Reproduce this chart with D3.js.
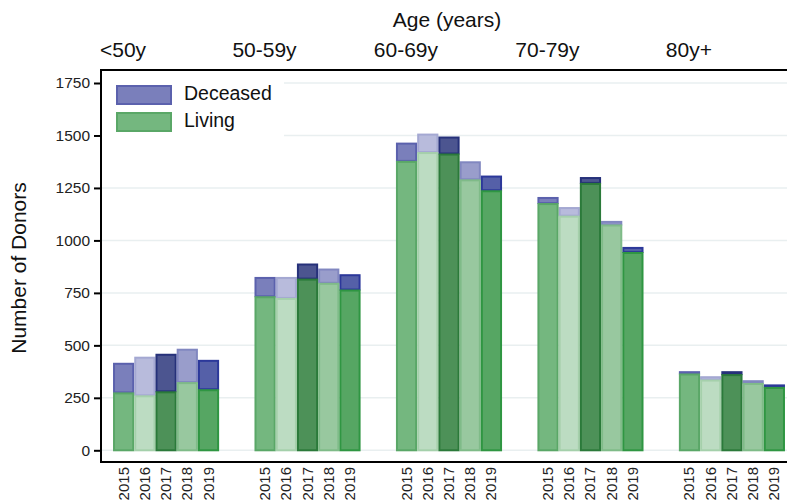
<!DOCTYPE html>
<html>
<head>
<meta charset="utf-8">
<script src="https://cdn.jsdelivr.net/npm/d3@7"></script>
<style>
  body { margin: 0; background: #fff; }
  svg text { font-family: "Liberation Sans", Arial, sans-serif; fill: #111; }
</style>
</head>
<body>
<svg id="chart" width="787" height="504"></svg>
<script>
// age groups along the top, years within each group
var groups = ["<50y", "50-59y", "60-69y", "70-79y", "80y+"];
var years = ["2015", "2016", "2017", "2018", "2019"];
var yTicks = [0, 250, 500, 750, 1000, 1250, 1500, 1750];

// living donors per group, one value per year
var living = [
  [276, 262, 281, 325, 291],
  [734, 726, 818, 798, 766],
  [1379, 1421, 1414, 1291, 1239],
  [1178, 1118, 1274, 1076, 945],
  [366, 337, 363, 321, 302]
];
// deceased donors per group, stacked on top of living
var deceased = [
  [141, 184, 179, 159, 140],
  [92, 100, 72, 68, 73],
  [87, 88, 81, 86, 70],
  [29, 41, 28, 17, 24],
  [11, 16, 14, 13, 12]
];

var livingFill = ["#74b77f", "#bcdcc2", "#4d9158", "#98c89f", "#56a663"];
var livingStroke = ["#5aa767", "#a5d0ab", "#2b7a3a", "#7fbb88", "#2f9642"];
var deadFill = ["#7a7fbb", "#b8bbdc", "#4c5590", "#999dcb", "#5560a8"];
var deadStroke = ["#5b61ad", "#a4a8d2", "#26317a", "#8187c0", "#2c389a"];

var svg = d3.select("#chart");
var W = 787, left = 101, plotTop = 70, plotBottom = 462;

var x0 = d3.scaleBand().domain(groups).range([left, 797])
  .paddingInner(0.25).paddingOuter(0.085);
var x1 = d3.scaleBand().domain(years).range([0, x0.bandwidth()]);
var y = d3.scaleLinear().domain([0, 1750]).range([450.3, 83]);

// gridlines
svg.append("g").selectAll("line").data(yTicks).enter().append("line")
  .attr("x1", left).attr("x2", W)
  .attr("y1", function(d) { return y(d); }).attr("y2", function(d) { return y(d); })
  .style("stroke", "#e9eff0").style("stroke-width", 1.5);

// bars
var rows = [];
groups.forEach(function(g, gi) {
  years.forEach(function(yr, yi) {
    rows.push({g: g, yr: yr, yi: yi, live: living[gi][yi], dead: deceased[gi][yi]});
  });
});

var bars = svg.append("g");
bars.selectAll(".dead").data(rows).enter().append("rect")
  .attr("class", "dead")
  .attr("x", function(d) { return x0(d.g) + x1(d.yr) + 1; })
  .attr("width", x1.bandwidth() - 2)
  .attr("y", function(d) { return y(d.live + d.dead) + 1; })
  .attr("height", function(d) { return Math.max(0, y(d.live) - y(d.live + d.dead) - 1); })
  .style("fill", function(d) { return deadFill[d.yi]; })
  .style("stroke", function(d) { return deadStroke[d.yi]; })
  .style("stroke-width", 2);

bars.selectAll(".live").data(rows).enter().append("rect")
  .attr("class", "live")
  .attr("x", function(d) { return x0(d.g) + x1(d.yr) + 1; })
  .attr("width", x1.bandwidth() - 2)
  .attr("y", function(d) { return y(d.live) + 1; })
  .attr("height", function(d) { return y(0) - y(d.live) - 1; })
  .style("fill", function(d) { return livingFill[d.yi]; })
  .style("stroke", function(d) { return livingStroke[d.yi]; })
  .style("stroke-width", 2);

// legend (white box hides the gridlines behind it)
var leg = svg.append("g");
leg.append("rect").attr("x", left + 1).attr("y", plotTop + 2).attr("width", 182).attr("height", 68)
  .style("fill", "#fff");
[["Deceased", deadFill[0], deadStroke[0]], ["Living", livingFill[0], livingStroke[0]]]
  .forEach(function(it, i) {
    leg.append("rect").attr("x", 117).attr("y", 86 + i * 27).attr("width", 54).attr("height", 18)
      .style("fill", it[1]).style("stroke", it[2]).style("stroke-width", 2);
    leg.append("text").attr("x", 184).attr("y", 100 + i * 27)
      .style("font-size", "19.5px").text(it[0]);
  });

// left axis
var yAxis = svg.append("g").attr("transform", "translate(" + left + ",0)")
  .call(d3.axisLeft(y).tickValues(yTicks).tickSize(7).tickPadding(4).tickFormat(d3.format("d")));
yAxis.select(".domain").remove();
yAxis.selectAll(".tick line").style("stroke", "#000").style("stroke-width", 2);
yAxis.selectAll(".tick text").style("font-size", "15.5px")
  .style("font-family", "Liberation Sans, Arial, sans-serif").style("fill", "#222");

// frame lines: left, top, bottom
svg.append("line").attr("x1", left).attr("x2", left).attr("y1", plotTop - 1).attr("y2", plotBottom + 1)
  .style("stroke", "#000").style("stroke-width", 2);
svg.append("line").attr("x1", left).attr("x2", W).attr("y1", plotTop).attr("y2", plotTop)
  .style("stroke", "#000").style("stroke-width", 2);
svg.append("line").attr("x1", left).attr("x2", W).attr("y1", plotBottom).attr("y2", plotBottom)
  .style("stroke", "#000").style("stroke-width", 2);

// year labels under each bar
svg.append("g").selectAll("text").data(rows).enter().append("text")
  .attr("transform", function(d) {
    var cx = x0(d.g) + x1(d.yr) + x1.bandwidth() / 2 + 5;
    return "translate(" + cx + ",467) rotate(-90)";
  })
  .attr("text-anchor", "end")
  .style("font-size", "15px").style("fill", "#222")
  .text(function(d) { return d.yr; });

// group labels on top
svg.append("g").selectAll("text").data(groups).enter().append("text")
  .attr("x", function(d) { return x0(d) + 10; })
  .attr("y", 57)
  .attr("text-anchor", "middle")
  .style("font-size", "21px")
  .text(function(d) { return d; });

svg.append("text").attr("x", 447).attr("y", 27).attr("text-anchor", "middle")
  .style("font-size", "21px").text("Age (years)");

svg.append("text").attr("transform", "translate(26,268) rotate(-90)")
  .attr("text-anchor", "middle").style("font-size", "21px").text("Number of Donors");
</script>
</body>
</html>
